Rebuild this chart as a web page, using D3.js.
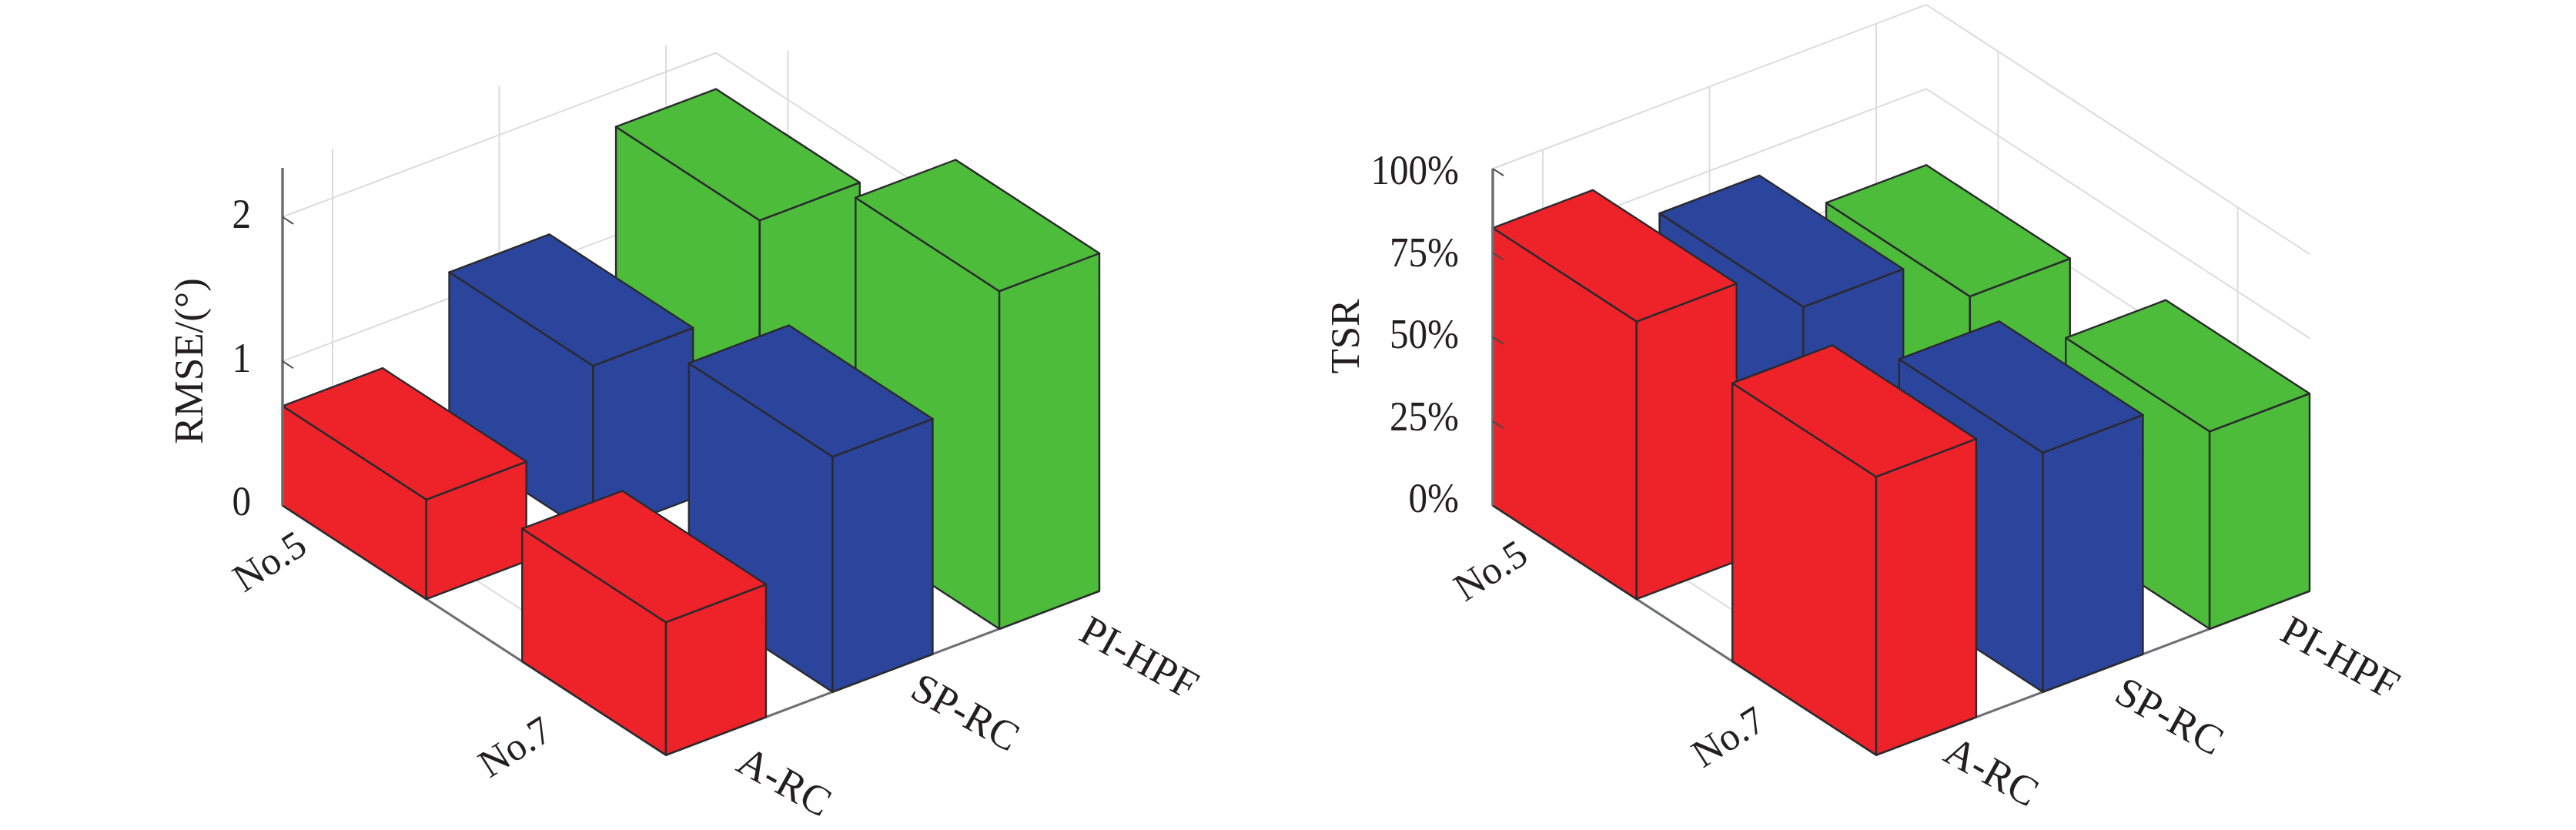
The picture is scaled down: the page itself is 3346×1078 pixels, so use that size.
<!DOCTYPE html>
<html><head><meta charset="utf-8">
<script src="https://cdn.jsdelivr.net/npm/d3@7"></script>
<style>html,body{margin:0;padding:0;background:#fff}svg{display:block}text{font-family:"Liberation Serif",serif;fill:#231f20}</style>
</head><body><svg id="c" width="3346" height="1078"></svg>
<script>
const conditions = ["No.5", "No.7"];
const methods = ["A-RC", "SP-RC", "PI-HPF"];
const methodColors = ["#ED2329", "#2B449C", "#4CBC3A"];
const rmseNo5 = [0.69, 1.18, 1.75];
const rmseNo7 = [0.92, 1.63, 2.34];
const tsrNo5 = [82.4, 68.0, 52.4];
const tsrNo7 = [82.6, 71.0, 58.6];
const rmseTicks = [0, 1, 2];
const rmseTickLabels = ["0", "1", "2"];
const tsrTicks = [0, 25, 50, 75, 100];
const tsrTickLabels = ["0%", "25%", "50%", "75%", "100%"];

const svg = d3.select("#c");
const defs = svg.append("defs");
const lineGen = d3.line();
const BAR = 0.3, GRID = "#dcdcdc", AXIS = "#6d6e71", EDGE = "#2a2a2e";
const cDom = [0.7, 2.3], sDom = [0.7, 3.3];

function chart(o) {
  const g = svg.append("g").attr("transform", `translate(${o.ox},${o.oy})`);
  const cx = d3.scaleLinear().domain(cDom).range([0, 498]);
  const cy = d3.scaleLinear().domain(cDom).range([0, 324]);
  const sx = d3.scaleLinear().domain(sDom).range([0, 563]);
  const sy = d3.scaleLinear().domain(sDom).range([0, -213]);
  const zy = d3.scaleLinear().domain([0, o.zMax]).range([0, -o.zPx]);
  const P = (c, s, z) => [cx(c) + sx(s), cy(c) + sy(s) + zy(z)];
  const seg = (gg, pts, color, w) => gg.append("path").attr("d", lineGen(pts))
    .attr("fill", "none").attr("stroke", color).attr("stroke-width", w).attr("stroke-linecap", "butt");

  // grid (behind the bars)
  const grid = g.append("g");
  if (o.clipTop !== undefined) {
    defs.append("clipPath").attr("id", o.id).append("rect")
      .attr("x", -100).attr("y", o.clipTop - o.oy).attr("width", 1300).attr("height", 1078);
    grid.attr("clip-path", `url(#${o.id})`);
  }
  const cPos = conditions.map((_, i) => i + 1), sPos = methods.map((_, i) => i + 1);
  o.ticks.forEach(t => {
    seg(grid, [P(cDom[0], sDom[0], t), P(cDom[0], sDom[1], t), P(cDom[1], sDom[1], t)], GRID, 2);
  });
  sPos.forEach(s => {
    seg(grid, [P(cDom[1], s, 0), P(cDom[0], s, 0), P(cDom[0], s, o.zMax)], GRID, 2);
  });
  cPos.forEach(c => {
    seg(grid, [P(c, sDom[0], 0), P(c, sDom[1], 0), P(c, sDom[1], o.zMax)], GRID, 2);
  });
  seg(g, [P(cDom[0], sDom[0], 0), P(cDom[1], sDom[0], 0), P(cDom[1], sDom[1], 0)], AXIS, 3);

  // bars: back to front
  for (let si = methods.length - 1; si >= 0; si--) {
    for (let ci = 0; ci < conditions.length; ci++) {
      const c = ci + 1, s = si + 1, v = o.values[ci][si];
      const c0 = c - BAR, c1 = c + BAR, s0 = s - BAR, s1 = s + BAR;
      const faces = [
        [P(c0, s0, 0), P(c1, s0, 0), P(c1, s0, v), P(c0, s0, v)],
        [P(c1, s0, 0), P(c1, s1, 0), P(c1, s1, v), P(c1, s0, v)],
        [P(c0, s0, v), P(c1, s0, v), P(c1, s1, v), P(c0, s1, v)]
      ];
      faces.forEach(f => g.append("path").attr("d", lineGen(f) + "Z")
        .attr("fill", methodColors[si]).attr("stroke", EDGE)
        .attr("stroke-width", 2.4).attr("stroke-linejoin", "round"));
    }
  }

  // z axis and ticks, on top
  seg(g, [P(cDom[0], sDom[0], 0), P(cDom[0], sDom[0], o.zMax)], AXIS, 3.5);
  o.ticks.forEach(t => {
    if (t === 0) return;
    seg(g, [P(cDom[0], sDom[0], t), P(cDom[0] + 0.045, sDom[0], t)], "#4a4a4d", 2);
  });

  // labels
  const labY = d3.scaleLinear().domain([o.ticks[0], o.ticks[o.ticks.length - 1]]).range(o.labRange);
  o.ticks.forEach((t, i) => {
    svg.append("text").text(o.tickLabels[i])
      .attr("transform", `translate(${o.labRight},${labY(t)}) scale(0.91,1)`)
      .attr("text-anchor", "end").attr("dominant-baseline", "central").attr("font-size", 54);
  });
  svg.append("text").text(o.title)
    .attr("transform", `translate(${o.titlePos[0]},${o.titlePos[1]}) rotate(-90)`)
    .attr("text-anchor", "middle").attr("dominant-baseline", "central").attr("font-size", 53);
  conditions.forEach((d, i) => {
    svg.append("text").text(d)
      .attr("transform", `translate(${o.condPos[i][0]},${o.condPos[i][1]}) rotate(-32.5)`)
      .attr("text-anchor", "middle").attr("dominant-baseline", "central").attr("font-size", 51);
  });
  methods.forEach((d, i) => {
    svg.append("text").text(d)
      .attr("transform", `translate(${o.methPos[i][0]},${o.methPos[i][1]}) rotate(29)`)
      .attr("text-anchor", "middle").attr("dominant-baseline", "central").attr("font-size", 54);
  });
}

chart({
  id: "clipL", ox: 367, oy: 656.6, zMax: 2.34, zPx: 438.6, clipTop: 59,
  values: [rmseNo5, rmseNo7], ticks: rmseTicks, tickLabels: rmseTickLabels,
  labRange: [651, 278], labRight: 326, title: "RMSE/(°)", titlePos: [245, 469],
  condPos: [[350, 729], [669, 970]],
  methPos: [[1019, 1015], [1254, 925], [1480, 854]]
});
chart({
  id: "clipR", ox: 1939, oy: 656.6, zMax: 100, zPx: 437.6,
  values: [tsrNo5, tsrNo7], ticks: tsrTicks, tickLabels: tsrTickLabels,
  labRange: [647, 221], labRight: 1895, title: "TSR", titlePos: [1747, 437],
  condPos: [[1936, 741], [2245, 957]],
  methPos: [[2587, 1002], [2818, 930], [3040, 854]]
});
</script></body></html>
